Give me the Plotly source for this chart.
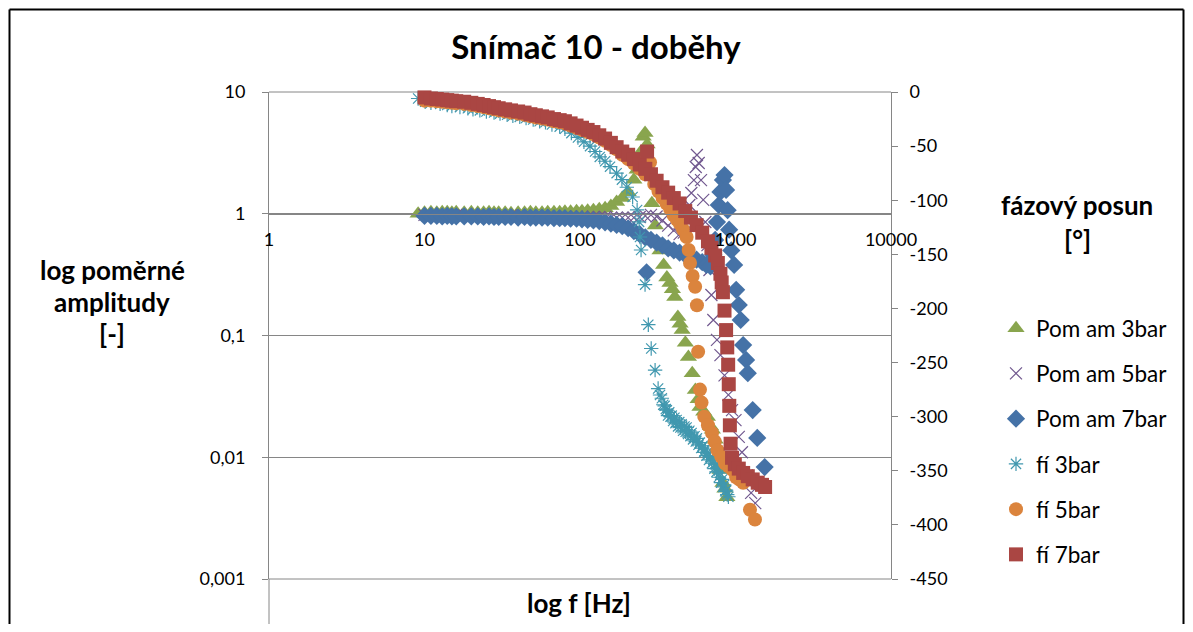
import plotly.graph_objects as go

# ---- data (frequency in Hz, amplitude ratio [-], phase [deg]) ----
f_am3 = [9.1, 10, 11, 12, 13, 14, 15, 16, 18, 20, 22, 24, 26, 28, 30, 33, 36, 40, 44, 48,
         52, 57, 62, 68, 74, 80, 87, 95, 103, 112, 122, 133, 145, 158, 172, 187, 204, 222, 233, 245,
         255, 262, 270, 290, 305, 327, 345, 362, 379, 393, 407, 426, 440, 454, 476, 498, 527, 552, 575, 591,
         625, 660, 690, 710, 740, 765, 795, 830, 855, 880]
am3 = [1.0, 1.02, 1.03, 1.02, 1.03, 1.03, 1.02, 1.03, 1.02, 1.03, 1.02, 1.02, 1.03, 1.02, 1.02, 1.02, 1.01, 1.02, 1.02, 1.03,
       1.02, 1.02, 1.03, 1.03, 1.03, 1.04, 1.04, 1.05, 1.05, 1.06, 1.07, 1.09, 1.11, 1.16, 1.25, 1.35, 1.5, 1.9, 2.3, 3.2,
       4.3, 4.6, 3.7, 1.22, 0.8, 0.5, 0.38, 0.3, 0.27, 0.24, 0.207, 0.142, 0.125, 0.111, 0.087, 0.0665, 0.049, 0.0357, 0.03, 0.0259,
       0.0236, 0.0214, 0.018, 0.0168, 0.0139, 0.0104, 0.00785, 0.00615, 0.0055, 0.0047]

f_am5 = [10, 11, 12, 13, 14, 15, 16, 18, 20, 22, 24, 26, 28, 30, 33, 36, 40, 44, 48, 52,
         57, 62, 68, 74, 80, 87, 95, 103, 112, 122, 133, 145, 158, 172, 187, 204, 222, 242, 263, 286,
         311, 339, 369, 401, 437, 465, 490, 505, 520, 540, 555, 565, 580, 600, 620, 640, 660, 680, 700, 720,
         760, 800, 850, 900, 950, 1000, 1050, 1100, 1180, 1260, 1340]
am5 = [0.98, 0.98, 0.97, 0.98, 0.97, 0.97, 0.98, 0.97, 0.97, 0.98, 0.97, 0.97, 0.97, 0.97, 0.96, 0.97, 0.96, 0.96, 0.96, 0.96,
       0.96, 0.95, 0.96, 0.95, 0.95, 0.95, 0.95, 0.95, 0.94, 0.94, 0.94, 0.94, 0.93, 0.93, 0.93, 0.93, 0.93, 0.94, 0.96, 0.98,
       0.95, 0.88, 0.8, 0.73, 0.68, 0.7, 0.9, 1.18, 1.48, 1.89, 2.42, 3.04, 2.61, 1.89, 1.3, 0.855, 0.553, 0.345, 0.215, 0.134,
       0.092, 0.069, 0.047, 0.0325, 0.0244, 0.0202, 0.0147, 0.011, 0.0071, 0.0051, 0.0042]

f_am7 = [10, 11, 12, 13, 14, 15, 16, 18, 20, 22, 24, 26, 28, 30, 33, 36, 40, 44, 48, 52,
         57, 62, 68, 74, 80, 87, 95, 103, 112, 122, 133, 145, 158, 172, 187, 204, 222, 242, 263, 268,
         286, 311, 339, 369, 401, 437, 475, 517, 562, 611, 650, 690, 720, 740, 760, 780, 800, 830, 850, 870,
         890, 910, 940, 980, 1010, 1050, 1080, 1120, 1170, 1200, 1290, 1380, 1540]
am7 = [0.96, 0.96, 0.96, 0.95, 0.96, 0.95, 0.95, 0.95, 0.95, 0.95, 0.94, 0.95, 0.94, 0.94, 0.94, 0.94, 0.93, 0.94, 0.93, 0.93,
       0.93, 0.93, 0.92, 0.92, 0.92, 0.91, 0.91, 0.9, 0.89, 0.88, 0.87, 0.85, 0.83, 0.81, 0.79, 0.76, 0.72, 0.68, 0.64, 0.33,
       0.61, 0.58, 0.55, 0.52, 0.5, 0.48, 0.46, 0.44, 0.42, 0.4, 0.38, 0.37, 0.46, 0.61, 0.855, 1.18, 1.51, 1.89, 2.08, 1.57,
       1.07, 0.74, 0.5, 0.38, 0.237, 0.178, 0.134, 0.0835, 0.063, 0.049, 0.0244, 0.0144, 0.0083]

f_fi3 = [9.1, 10.1, 11, 12.6, 14, 15, 16.9, 19, 20.5, 22.7, 25, 28, 30.6, 34, 37, 41, 45, 50, 55, 60,
         66, 74, 80, 88, 97, 106, 116, 125, 134, 145, 156, 172, 186, 200, 218, 233, 240, 243, 247, 262,
         275, 287, 304,
         318, 327, 336, 343, 350, 356, 362, 368, 375, 382, 389, 397, 405, 411, 418, 427, 435, 442, 450, 460,
         470, 478, 485, 495, 505, 513, 522, 533, 545, 555, 565, 578, 590, 602, 615, 628, 640, 650, 660, 675,
         690, 705, 720, 732, 745, 755, 765, 780, 795, 808, 820, 832, 845, 858, 870, 885, 900]
fi3 = [-6, -9, -10, -11, -12, -13, -14, -15, -16, -17, -18, -19, -20, -21, -22, -23, -24, -25.5, -27, -28,
       -30, -32, -34, -38, -42, -46, -50, -55, -60, -64, -69, -75, -81, -88, -97, -109, -120, -134, -146, -178,
       -215, -237, -257,
       -274, -280, -283, -289, -290, -293, -294, -299, -296, -300, -299, -304, -301, -306, -303, -309, -305, -310, -307, -313,
       -309, -314, -310, -316, -313, -318, -315, -321, -318, -323, -320, -326, -324, -329, -327, -333, -330, -336, -333, -340,
       -337, -343, -340, -348, -344, -351, -347, -356, -352, -361, -358, -365, -363, -369, -368, -372, -374]

f_fi5 = [10, 11, 12, 13, 14, 15, 16, 18, 20, 22, 24, 26, 28, 30, 33, 36, 40, 44, 48, 52,
         57, 62, 68, 74, 80, 87, 95, 103, 112, 122, 133, 145, 158, 172, 187, 204, 222, 242, 263, 282,
         300, 320, 340, 360, 380, 400, 420, 440, 460, 485, 500, 510, 530, 550, 565, 575, 591, 605, 630, 665,
         706, 735, 765, 810, 856, 905, 955, 1010, 1060, 1120, 1239, 1334]
fi5 = [-8, -8, -8.5, -9, -9.5, -10, -10.5, -11, -12, -13, -14, -15, -16, -17, -18, -19, -20, -21, -22.5, -23.5,
       -24.5, -25.5, -27, -28, -29, -31, -33, -35, -37, -39, -42, -45, -49, -53, -58, -62, -66, -71, -76, -65,
       -85, -92, -98, -103, -108, -114, -118, -122, -127, -134, -146, -158, -170, -180, -197, -240, -275, -287, -300, -308,
       -315, -323, -331, -337, -343, -346, -349, -356, -358, -361, -386, -395]

f_fi7 = [10, 11, 12, 13, 14, 15, 16, 18, 20, 22, 24, 26, 28, 30, 33, 36, 40, 44, 48, 52,
         57, 62, 68, 74, 80, 87, 95, 103, 112, 122, 133, 145, 158, 172, 187, 204, 222, 242, 263, 270,
         286, 311, 339, 369, 401, 437, 475, 517, 562, 611, 665, 700, 740, 770, 800, 815, 830, 850, 870, 885,
         897, 905, 912, 920, 930, 950, 990, 1050, 1120, 1200, 1290, 1390, 1480, 1550]
fi7 = [-5, -6, -6.5, -7, -7.5, -8, -8.5, -9, -10, -11, -12, -13, -14, -15, -16, -17, -18, -19, -20.5, -21.5,
       -22.5, -23.5, -25, -26, -27, -29, -31, -33, -35, -37, -40, -43, -47, -51, -55, -58, -62, -67, -71, -55,
       -76, -82, -88, -93, -98, -103, -110, -116, -123, -130, -138, -144, -151, -158, -168, -176, -185, -202, -220, -236,
       -252, -270, -290, -308, -325, -338, -344, -348, -352, -355, -358, -361, -363, -365]

series_names = ["Pom am 3bar", "Pom am 5bar", "Pom am 7bar", "fí 3bar", "fí 5bar", "fí 7bar"]

x_tickvals = [1, 10, 100, 1000, 10000]
x_ticktext = ["1", "10", "100", "1000", "10000"]
y_tickvals = [0.001, 0.01, 0.1, 1, 10]
y_ticktext = ["0,001", "0,01", "0,1", "1", "10"]
y2_tickvals = [0, -50, -100, -150, -200, -250, -300, -350, -400, -450]
y2_ticktext = ["0", "-50", "-100", "-150", "-200", "-250", "-300", "-350", "-400", "-450"]

for a, b in [(f_am3, am3), (f_am5, am5), (f_am7, am7), (f_fi3, fi3), (f_fi5, fi5), (f_fi7, fi7)]:
    assert len(a) == len(b), (len(a), len(b))

# ---- styling ----
FONT = "Lato"
GRID = "#868686"
C_GREEN, C_PURPLE, C_BLUE = "#89A54E", "#71588F", "#4572A7"
C_CYAN, C_ORANGE, C_RED = "#4198AF", "#DB843D", "#AA4643"

fig = go.Figure()
specs = [
    (f_am3, am3, "y", "triangle-up", C_GREEN, 15, None),
    (f_am5, am5, "y", "x-thin-open", C_PURPLE, 12, 1.2),
    (f_am7, am7, "y", "diamond", C_BLUE, 14, None),
    (f_fi3, fi3, "y2", "asterisk-open", C_CYAN, 12, 1.2),
    (f_fi5, fi5, "y2", "circle", C_ORANGE, 14, None),
    (f_fi7, fi7, "y2", "square", C_RED, 14, None),
]
for i, (xs, ys, ax, sym, col, size, lw) in enumerate(specs):
    marker = dict(symbol=sym, color=col, size=size)
    if lw is not None:
        marker["line"] = dict(color=col, width=lw)
    else:
        marker["line"] = dict(width=0)
    fig.add_trace(go.Scatter(x=xs, y=ys, yaxis=ax, mode="markers", name=series_names[i],
                             legendgroup=str(i), marker=marker, cliponaxis=False))

# the page body adds an 8px offset; target pixel positions are given in window coords
OFF = 8
W, H = 1193 - 2 * OFF, 632 - 2 * OFF
L, R, T, B = 269 - OFF, 891 - OFF, 92 - OFF, 579 - OFF
pw, ph = R - L, B - T


def px(x):
    return (x - OFF - L) / pw


def py(y):
    return (B - (y - OFF)) / ph


def cx(x):
    return (x - OFF) / W


def cy(y):
    return 1 - (y - OFF) / H


fig.update_layout(
    width=W, height=H,
    margin=dict(l=L, r=W - R, t=T, b=H - B, pad=0),
    paper_bgcolor="white", plot_bgcolor="white",
    font=dict(family=FONT, size=18, color="black"),
    title=dict(text="<b>Snímač 10 - doběhy</b>", x=cx(596), xref="container", xanchor="center",
               y=cy(47), yref="container", yanchor="middle",
               font=dict(family=FONT, size=33, color="black")),
    xaxis=dict(type="log", range=[0, 4], tickvals=x_tickvals, ticktext=x_ticktext,
               showgrid=False, showline=True, linecolor=GRID, linewidth=1, ticks="",
               anchor="free", position=0.75, zeroline=False, ticklabelstandoff=10,
               tickfont=dict(family=FONT, size=18, color="black")),
    yaxis=dict(type="log", range=[-3, 1], tickvals=y_tickvals, ticktext=y_ticktext,
               showgrid=True, gridcolor=GRID, gridwidth=1, showline=True, linecolor=GRID,
               ticks="outside", ticklen=6, tickcolor=GRID, zeroline=False, domain=[0, 1],
               ticklabelstandoff=13,
               tickfont=dict(family=FONT, size=18, color="black")),
    yaxis2=dict(overlaying="y", side="right", range=[-450, 0], tickvals=y2_tickvals,
                ticktext=y2_ticktext, showgrid=False, showline=True, linecolor=GRID,
                ticks="outside", ticklen=6, tickcolor=GRID, zeroline=False, anchor="x",
                ticklabelstandoff=8,
                tickfont=dict(family=FONT, size=18, color="black")),
    legend=dict(x=cx(996), xref="container", xanchor="left", y=cy(307), yref="container",
                yanchor="top", font=dict(family=FONT, size=22.5, color="black"),
                tracegroupgap=13, bgcolor="rgba(0,0,0,0)", itemsizing="trace", itemwidth=30),
    showlegend=True,
)

ann_font = dict(family=FONT, size=26, color="black")
annotations = [
    ("<b>log poměrné</b>", 112, 270),
    ("<b>amplitudy</b>", 112, 302),
    ("<b>[-]</b>", 112, 334),
    ("<b>fázový posun</b>", 1077, 205),
    ("<b>[°]</b>", 1077, 240),
    ("<b>log f [Hz]</b>", 579, 603),
]
for text, ax_, ay_ in annotations:
    fig.add_annotation(text=text, x=px(ax_), y=py(ay_), xref="paper", yref="paper",
                       xanchor="center", yanchor="middle", showarrow=False, font=ann_font)

# outer chart frame (window coords, kept inside the drawable page)
FR_L, FR_R, FR_T, FR_B = 9.5, 1183.5, 9.5, 660
frame = dict(color="black", width=2)
fig.add_shape(type="line", xref="paper", yref="paper", x0=px(FR_L), x1=px(FR_R), y0=py(FR_T), y1=py(FR_T), line=frame)
fig.add_shape(type="line", xref="paper", yref="paper", x0=px(FR_L), x1=px(FR_L), y0=py(FR_T), y1=py(FR_B), line=frame)
fig.add_shape(type="line", xref="paper", yref="paper", x0=px(FR_R), x1=px(FR_R), y0=py(FR_T), y1=py(FR_B), line=frame)
# plot-area top/bottom gridlines and the axis line continuing below the plot area
fig.add_shape(type="line", xref="paper", yref="paper", x0=0, x1=1, y0=1, y1=1,
              line=dict(color=GRID, width=1), layer="below")
fig.add_shape(type="line", xref="paper", yref="paper", x0=0, x1=1, y0=0, y1=0,
              line=dict(color=GRID, width=1), layer="below")
fig.add_shape(type="line", xref="paper", yref="paper", x0=0, x1=0, y0=py(660), y1=0,
              line=dict(color=GRID, width=1), layer="below")

fig.write_html("out.html")
